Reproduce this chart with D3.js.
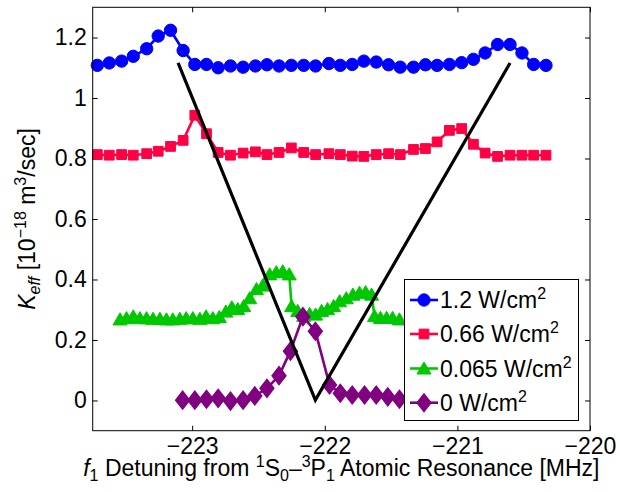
<!DOCTYPE html>
<html><head><meta charset="utf-8">
<script src="https://cdn.jsdelivr.net/npm/d3@7"></script>
<style>
html,body{margin:0;padding:0;background:#fff;}
text{font-family:"Liberation Sans",Arial,Helvetica,sans-serif;}
</style></head>
<body><svg id="chart" width="620" height="492"></svg>
<script>
// ---- data ----
const seriesNames = ["1.2 W/cm", "0.66 W/cm", "0.065 W/cm", "0 W/cm"];
const seriesColors = ["#0000ff", "#ff0044", "#00c800", "#800080"];
const seriesSymbols = ["circle", "square", "triangle", "diamond"];

const xBlue = [-223.715,-223.625,-223.532,-223.444,-223.343,-223.256,-223.163,-223.068,-222.980,-222.892,-222.804,-222.711,-222.616,-222.523,-222.436,-222.345,-222.252,-222.159,-222.069,-221.969,-221.883,-221.793,-221.705,-221.612,-221.519,-221.431,-221.331,-221.241,-221.153,-221.060,-220.968,-220.879,-220.791,-220.697,-220.603,-220.513,-220.425,-220.332];
const yBlue = [1.108,1.116,1.122,1.138,1.163,1.205,1.224,1.157,1.111,1.111,1.100,1.106,1.102,1.106,1.110,1.106,1.108,1.108,1.106,1.114,1.108,1.111,1.122,1.119,1.110,1.102,1.102,1.110,1.108,1.111,1.117,1.128,1.149,1.177,1.177,1.149,1.111,1.108];

const xRed = xBlue;
const yRed = [0.813,0.811,0.813,0.811,0.816,0.824,0.840,0.860,0.943,0.882,0.820,0.811,0.818,0.822,0.813,0.820,0.835,0.820,0.813,0.816,0.813,0.808,0.807,0.813,0.816,0.813,0.830,0.833,0.855,0.893,0.899,0.847,0.818,0.807,0.811,0.811,0.811,0.811];

const xGreen = [-223.544,-223.495,-223.444,-223.394,-223.344,-223.295,-223.243,-223.194,-223.146,-223.093,-223.045,-222.995,-222.942,-222.895,-222.844,-222.795,-222.746,-222.701,-222.656,-222.611,-222.566,-222.515,-222.468,-222.415,-222.366,-222.317,-222.268,-222.250,-222.204,-222.159,-222.114,-222.069,-222.024,-221.979,-221.933,-221.888,-221.838,-221.788,-221.738,-221.692,-221.647,-221.625,-221.580,-221.534,-221.489,-221.437];
const yGreen = [0.268,0.272,0.278,0.272,0.272,0.270,0.270,0.268,0.268,0.270,0.272,0.272,0.270,0.278,0.272,0.276,0.294,0.308,0.302,0.312,0.338,0.368,0.380,0.417,0.424,0.427,0.417,0.312,0.296,0.280,0.286,0.284,0.296,0.302,0.312,0.328,0.338,0.350,0.356,0.358,0.350,0.279,0.273,0.273,0.273,0.268];

const xPurple = [-223.072,-222.980,-222.892,-222.804,-222.711,-222.616,-222.528,-222.436,-222.345,-222.259,-222.165,-222.071,-221.964,-221.883,-221.793,-221.700,-221.612,-221.525,-221.437];
const yPurple = [0.001,0.001,0.004,0.007,-0.002,0.001,0.015,0.040,0.082,0.163,0.277,0.229,0.051,0.024,0.018,0.018,0.018,0.012,0.004];

const xVee = [-223.106, -222.071, -220.603];
const yVee = [1.116, 0.001, 1.116];

const xTicks = [-223, -222, -221, -220];
const yTicks = [0, 0.2, 0.4, 0.6, 0.8, 1, 1.2];
const xDomain = [-223.75, -220];
const yDomain = [-0.1, 1.3];

// ---- layout ----
const m = {left: 92.7, right: 590, top: 7.3, bottom: 430.7};
const svg = d3.select("#chart");
const x = d3.scaleLinear().domain(xDomain).range([m.left, m.right]);
const y = d3.scaleLinear().domain(yDomain).range([m.bottom, m.top]);
const FS = 23;

// rich text helper
function rich(sel, parts) {
  let cur = 0;
  parts.forEach(p => {
    const ts = sel.append("tspan").text(p.t);
    let target = 0, size = FS;
    if (p.s === "sup") { target = -9; size = 16; }
    if (p.s === "sub") { target = 5; size = 16; }
    ts.attr("dy", target - cur).attr("font-size", size);
    if (p.i) ts.attr("font-style", "italic");
    cur = target;
  });
}

const minus = "\u2212";

// axes
const fmtY = d => d === 0 ? "0" : String(+d.toFixed(1));
const fmtX = d => (d < 0 ? minus : "") + Math.abs(d);

const gx = svg.append("g").attr("transform", `translate(0,${m.bottom})`)
  .call(d3.axisBottom(x).tickValues(xTicks).tickSize(-5).tickPadding(7).tickFormat(fmtX));
const gxt = svg.append("g").attr("transform", `translate(0,${m.top})`)
  .call(d3.axisTop(x).tickValues(xTicks).tickSize(-5).tickFormat(""));
const gy = svg.append("g").attr("transform", `translate(${m.left},0)`)
  .call(d3.axisLeft(y).tickValues(yTicks).tickSize(-5).tickPadding(6).tickFormat(fmtY));
const gyr = svg.append("g").attr("transform", `translate(${m.right},0)`)
  .call(d3.axisRight(y).tickValues(yTicks).tickSize(-5).tickFormat(""));
[gx, gxt, gy, gyr].forEach(g => {
  g.select(".domain").remove();
  g.selectAll(".tick line").attr("stroke", "#000").attr("stroke-width", 1);
  g.selectAll(".tick text").attr("font-size", FS).attr("fill", "#000")
    .attr("font-family", '"Liberation Sans",Arial,sans-serif');
});
gx.selectAll(".tick text").attr("dy", "0.71em");

// data layer
const plot = svg.append("g");
const allSeries = [
  {xs: xBlue, ys: yBlue},
  {xs: xRed, ys: yRed},
  {xs: xGreen, ys: yGreen},
  {xs: xPurple, ys: yPurple}
];
const symSize = {circle: 120, square: 95, triangle: 85, diamond: 95};
const symType = {circle: d3.symbolCircle, square: d3.symbolSquare, triangle: d3.symbolTriangle, diamond: d3.symbolDiamond};
const line = d3.line().x(d => x(d[0])).y(d => y(d[1]));

function symTransform(kind, px, py) {
  const t = kind === "triangle" ? 1.5 : 0;
  const sc = kind === "diamond" ? " scale(1.35,1)" : "";
  return `translate(${px},${py + t})${sc}`;
}

allSeries.forEach((s, i) => {
  const pts = s.xs.map((v, k) => [v, s.ys[k]]);
  plot.append("path").datum(pts).attr("d", line)
    .attr("fill", "none").attr("stroke", seriesColors[i]).attr("stroke-width", 2.6)
    .attr("stroke-linejoin", "round");
  const kind = seriesSymbols[i];
  const sym = d3.symbol().type(symType[kind]).size(symSize[kind]);
  plot.selectAll(null).data(pts).join("path")
    .attr("d", sym)
    .attr("transform", d => symTransform(kind, x(d[0]), y(d[1])))
    .attr("fill", seriesColors[i]).attr("stroke", seriesColors[i]).attr("stroke-width", 1);
});

// V line
plot.append("path").datum(xVee.map((v, k) => [v, yVee[k]])).attr("d", line)
  .attr("fill", "none").attr("stroke", "#000").attr("stroke-width", 3.2);

// frame
svg.append("rect").attr("x", m.left).attr("y", m.top)
  .attr("width", m.right - m.left).attr("height", m.bottom - m.top)
  .attr("fill", "none").attr("stroke", "#000").attr("stroke-width", 1);

// legend
const L = {x: 404.5, y: 279.5, w: 174, h: 141};
const lg = svg.append("g");
lg.append("rect").attr("x", L.x).attr("y", L.y).attr("width", L.w).attr("height", L.h)
  .attr("fill", "#fff").attr("stroke", "#000").attr("stroke-width", 1);
const rowY = [300, 334, 368.5, 402.7];
seriesNames.forEach((n, i) => {
  const cy = rowY[i];
  const kind = seriesSymbols[i];
  lg.append("line").attr("x1", 410).attr("x2", 438).attr("y1", cy).attr("y2", cy)
    .attr("stroke", seriesColors[i]).attr("stroke-width", 2.6);
  const sym = d3.symbol().type(symType[kind]).size(symSize[kind]);
  lg.append("path").attr("d", sym).attr("transform", symTransform(kind, 424, cy))
    .attr("fill", seriesColors[i]).attr("stroke", seriesColors[i]);
  const tx = lg.append("text").attr("x", 440).attr("y", cy + 8).attr("font-size", FS).attr("fill", "#000");
  rich(tx, [{t: n}, {t: "2", s: "sup"}]);
});

// x label
const xl = svg.append("text").attr("x", (m.left + m.right) / 2).attr("y", 476)
  .attr("text-anchor", "middle").attr("font-size", FS).attr("fill", "#000");
rich(xl, [{t: "f", i: true}, {t: "1", s: "sub"}, {t: " Detuning from "}, {t: "1", s: "sup"}, {t: "S"},
  {t: "0", s: "sub"}, {t: "\u2013"}, {t: "3", s: "sup"}, {t: "P"}, {t: "1", s: "sub"},
  {t: " Atomic Resonance [MHz]"}]);

// y label
const yl = svg.append("text").attr("transform", `translate(35,${(m.top + m.bottom) / 2}) rotate(-90)`)
  .attr("text-anchor", "middle").attr("font-size", FS).attr("fill", "#000");
rich(yl, [{t: "K", i: true}, {t: "eff", s: "sub", i: true}, {t: "  [10"}, {t: minus + "18", s: "sup"},
  {t: " m"}, {t: "3", s: "sup"}, {t: "/sec]"}]);
</script>
</body></html>
